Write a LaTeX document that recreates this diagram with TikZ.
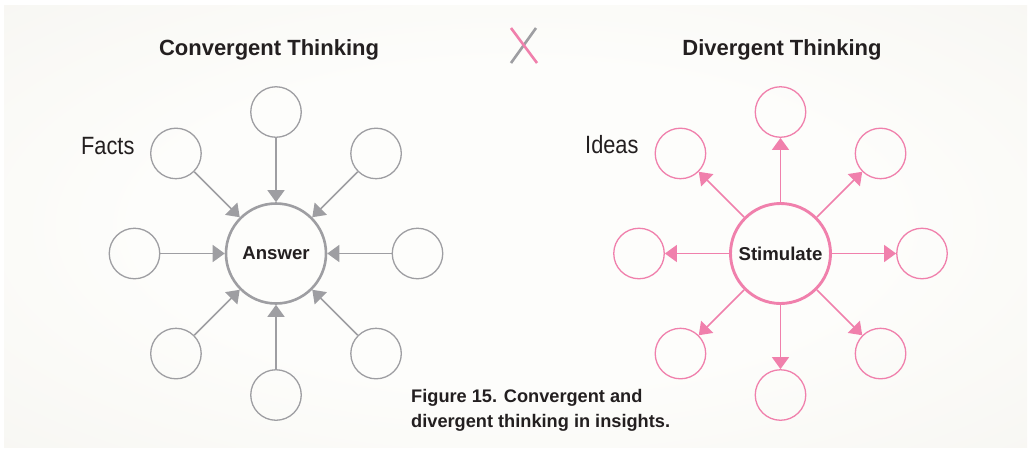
\documentclass[tikz,border=0pt]{standalone}
\usepackage{fontspec}
\setmainfont{Liberation Sans}
\newfontfamily\condfont{Liberation Sans}[FakeStretch=0.87]
\usetikzlibrary{arrows.meta}
\definecolor{gline}{RGB}{158,158,162}
\definecolor{pline}{RGB}{240,128,172}
\definecolor{ink}{RGB}{35,31,32}
\definecolor{panel}{RGB}{245,244,239}
\definecolor{panellight}{RGB}{253,253,251}
\pgfdeclareradialshading{bgshade}{\pgfpoint{0bp}{0bp}}{color(0bp)=(panellight); color(18bp)=(panellight); color(45bp)=(panel); color(50bp)=(panel)}
\tikzset{
  hubL/.style={circle, draw=gline, line width=2.6pt, minimum size=100pt, inner sep=0pt, text=ink, font=\bfseries\fontsize{18.6}{22}\selectfont},
  hubR/.style={circle, draw=pline, line width=2.9pt, minimum size=100pt, inner sep=0pt, text=ink, font=\bfseries\fontsize{18.6}{22}\selectfont},
  leafL/.style={circle, draw=gline, line width=1.3pt, minimum size=50.5pt, inner sep=0pt},
  leafR/.style={circle, draw=pline, line width=1.3pt, minimum size=50.5pt, inner sep=0pt},
  garrow/.style={draw=gline, line width=1.5pt, -{Triangle[length=12pt,width=17pt]}, fill=gline},
  parrow/.style={draw=pline, line width=1.5pt, -{Triangle[length=12pt,width=17pt]}, fill=pline},
  title/.style={text=ink, font=\bfseries\fontsize{22}{26}\selectfont, inner sep=0pt, anchor=base},
  side/.style={text=ink, font=\condfont\fontsize{25}{28}\selectfont, inner sep=0pt, anchor=base west},
  caption/.style={text=ink, font=\bfseries\fontsize{18.2}{25}\selectfont, inner sep=0pt, anchor=base west, align=left}
}
\begin{document}
\begin{tikzpicture}[x=1pt,y=-1pt]
\useasboundingbox (0,0) rectangle (1031,451);
\fill[white] (0,0) rectangle (1031,451);
\shade[shading=bgshade] (4,5) rectangle (1027,447);

% titles
\node[title] (tl) at (269,55) {Convergent Thinking};
\node[title] (tr) at (782,55) {Divergent Thinking};

% X mark
\coordinate (xa) at (536,28);
\coordinate (xb) at (511,63);
\coordinate (xc) at (511,28);
\coordinate (xd) at (537,63);
\draw[gline, line width=2.6pt] (xa) -- (xb);
\draw[pline, line width=2.6pt] (xc) -- (xd);

% side labels
\node[side] (facts) at (81,154) {Facts};
\node[side] (ideas) at (585,153) {Ideas};

% convergent hub
\node[hubL] (Lc) at (276,253.5) {Answer};
\foreach \a in {0,45,90,135,180,225,270,315}{
  \node[leafL] (L\a) at ({276+141.5*cos(\a)},{253.5+141.5*sin(\a)}) {};
  \draw[garrow] (L\a) -- (Lc);
}

% divergent hub
\node[hubR] (Rc) at (780.5,253.5) {Stimulate};
\foreach \a in {0,45,90,135,180,225,270,315}{
  \node[leafR] (R\a) at ({780.5+141.5*cos(\a)},{253.5+141.5*sin(\a)}) {};
  \draw[parrow] (Rc) -- (R\a);
}

% caption (base anchor = last line baseline)
\node[caption] (cap) at (411,427) {Figure 15. Convergent and\\divergent thinking in insights.};
\end{tikzpicture}
\end{document}
